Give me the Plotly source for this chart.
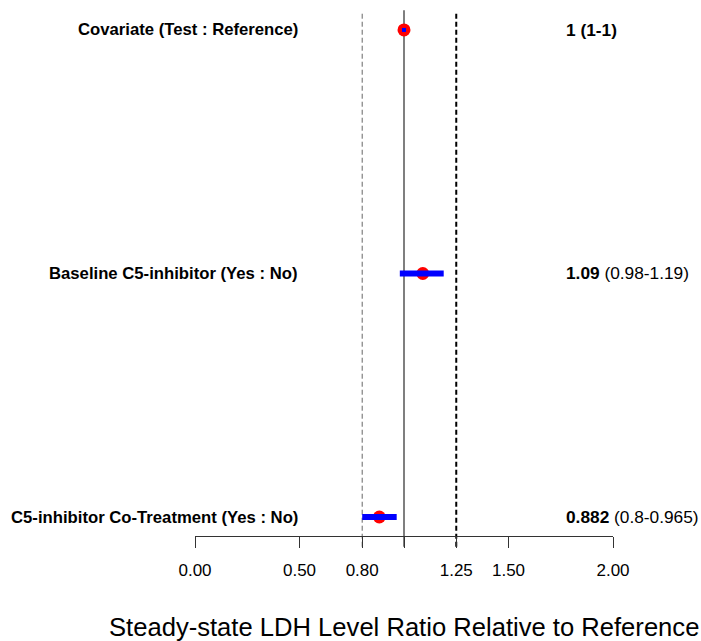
import plotly.graph_objects as go

# Forest plot data (top row is the reference)
covariates = [
    "Covariate (Test : Reference)",
    "Baseline C5-inhibitor (Yes : No)",
    "C5-inhibitor Co-Treatment (Yes : No)",
]
ratio = [1.0, 1.09, 0.882]
ci_low = [1.0, 0.98, 0.8]
ci_high = [1.0, 1.19, 0.965]
row_pos = [3, 2, 1]

tick_vals = [0.0, 0.5, 0.8, 1.0, 1.25, 1.5, 2.0]
tick_text = ["0.00", "0.50", "0.80", "", "1.25", "1.50", "2.00"]

null_value = 1.0
bounds = [0.8, 1.25]

FONT = "Liberation Sans, Arial, sans-serif"

fig = go.Figure()

# Red point estimates
fig.add_trace(go.Scatter(
    x=ratio, y=row_pos, mode="markers",
    marker=dict(color="#ff0000", size=13, line=dict(width=0)),
    hoverinfo="skip", showlegend=False, cliponaxis=False,
))

# Blue confidence intervals drawn over the points
for lo, hi, y in zip(ci_low, ci_high, row_pos):
    fig.add_trace(go.Scatter(
        x=[lo, hi], y=[y, y], mode="lines",
        line=dict(color="#0000ff", width=6),
        hoverinfo="skip", showlegend=False, cliponaxis=False,
    ))
fig.add_trace(go.Scatter(
    x=ratio, y=row_pos, mode="markers",
    marker=dict(color="#0000ff", size=4, symbol="square", line=dict(width=0)),
    hoverinfo="skip", showlegend=False, cliponaxis=False,
))

# Reference lines
fig.add_shape(type="line", xref="x", yref="paper", x0=null_value, x1=null_value,
              y0=-0.02, y1=0.981, line=dict(color="#555555", width=1.5), layer="below")
fig.add_shape(type="line", xref="x", yref="paper", x0=bounds[0], x1=bounds[0],
              y0=-0.02, y1=0.976, line=dict(color="#666666", width=1, dash="5px,3px"),
              layer="below")
fig.add_shape(type="line", xref="x", yref="paper", x0=bounds[1], x1=bounds[1],
              y0=-0.02, y1=0.976, line=dict(color="#000000", width=2, dash="5px,3px"),
              layer="below")

# Row labels and estimate text
for i, (name, r, lo, hi, y) in enumerate(zip(covariates, ratio, ci_low, ci_high, row_pos)):
    fig.add_annotation(x=0.5, y=y, xref="x", yref="y", text=f"<b>{name}</b>",
                       showarrow=False, xanchor="right", yanchor="middle",
                       font=dict(family=FONT, size=16.7, color="#000000"))
    if i == 0:
        est = f"<b>{r:g} ({lo:g}-{hi:g})</b>"
    else:
        est = f"<b>{r:g}</b> ({lo:g}-{hi:g})"
    fig.add_annotation(x=1.765, y=y, xref="x", yref="y", text=est,
                       showarrow=False, xanchor="left", yanchor="middle",
                       font=dict(family=FONT, size=17.3, color="#000000"))

# Axis title
fig.add_annotation(x=0.5, y=-0.17, xref="paper", yref="paper",
                   text="Steady-state LDH Level Ratio Relative to Reference",
                   showarrow=False, xanchor="center", yanchor="middle",
                   font=dict(family=FONT, size=25.6, color="#000000"))

fig.update_layout(
    width=701, height=641,
    margin=dict(l=195, r=88, t=0, b=105),
    plot_bgcolor="white", paper_bgcolor="white",
    font=dict(family=FONT, color="#000000"),
    xaxis=dict(
        range=[0, 2], showgrid=False, zeroline=False,
        showline=True, linecolor="#333333", linewidth=1,
        ticks="outside", ticklen=11, tickwidth=1, tickcolor="#333333",
        tickvals=tick_vals, ticktext=tick_text,
        tickfont=dict(family=FONT, size=17, color="#000000"),
        ticklabelstandoff=8,
    ),
    yaxis=dict(
        range=[0.922, 3.123], showgrid=False, zeroline=False,
        showline=False, showticklabels=False, ticks="",
    ),
)

fig.write_html("out.html")
